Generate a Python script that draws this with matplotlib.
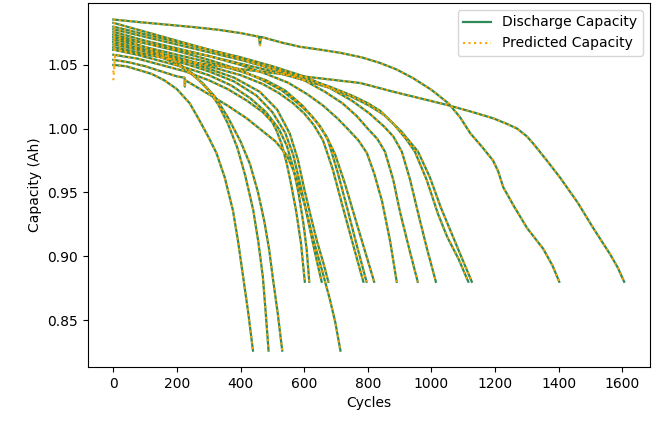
import matplotlib
matplotlib.use("Agg")
import matplotlib.pyplot as plt

# (cycle, capacity in Ah) keypoints, one list per cell
cell_439 = [(0, 1.050), (40, 1.049), (80, 1.046), (120, 1.043), (160, 1.038),
            (200, 1.031), (240, 1.020), (272, 1.006), (300, 0.993), (324, 0.981),
            (350, 0.962), (376, 0.936), (392, 0.912), (408, 0.884), (424, 0.856),
            (439, 0.826)]
cell_488 = [(0, 1.072), (50, 1.068), (100, 1.064), (150, 1.059), (200, 1.052),
            (250, 1.043), (300, 1.030), (330, 1.019), (360, 1.004), (390, 0.985),
            (415, 0.963), (440, 0.936), (456, 0.911), (470, 0.884), (479, 0.856),
            (488, 0.826)]
cell_531 = [(0, 1.068), (60, 1.064), (120, 1.059), (180, 1.053), (230, 1.046),
            (280, 1.036), (320, 1.025), (360, 1.009), (400, 0.990), (430, 0.972),
            (455, 0.950), (475, 0.927), (490, 0.905), (502, 0.882), (517, 0.855),
            (531, 0.826)]
cell_602 = [(0, 1.058), (75, 1.055), (150, 1.050), (225, 1.045), (300, 1.038),
            (360, 1.031), (420, 1.022), (470, 1.013), (500, 1.005), (514, 0.998),
            (529, 0.988), (545, 0.973), (560, 0.955), (575, 0.935), (590, 0.910),
            (602, 0.880)]
cell_616 = [(0, 1.062), (75, 1.058), (150, 1.053), (225, 1.048), (300, 1.042),
            (370, 1.034), (430, 1.024), (480, 1.013), (520, 1.000), (545, 0.987),
            (565, 0.970), (582, 0.950), (598, 0.925), (608, 0.905), (616, 0.880)]
cell_655 = [(0, 1.064), (75, 1.060), (150, 1.056), (225, 1.051), (300, 1.045),
            (380, 1.037), (450, 1.026), (500, 1.013), (540, 0.997), (565, 0.980),
            (586, 0.958), (605, 0.937), (625, 0.913), (641, 0.895), (655, 0.880)]
cell_676 = [(0, 1.066), (75, 1.062), (150, 1.058), (225, 1.053), (300, 1.047),
            (380, 1.040), (460, 1.029), (515, 1.015), (555, 0.996), (580, 0.976),
            (600, 0.953), (620, 0.932), (640, 0.912), (660, 0.895), (676, 0.880)]
cell_714 = [(0, 1.054), (50, 1.052), (100, 1.049), (150, 1.045), (200, 1.041),
            (224, 1.040), (225, 1.033), (226, 1.038), (260, 1.033), (300, 1.027),
            (360, 1.018), (420, 1.008), (470, 0.998), (510, 0.990), (546, 0.979),
            (575, 0.962), (600, 0.942), (630, 0.912), (655, 0.890), (681, 0.866),
            (698, 0.848), (714, 0.826)]
cell_786 = [(0, 1.068), (100, 1.062), (200, 1.056), (300, 1.049), (400, 1.042),
            (470, 1.035), (520, 1.028), (565, 1.020), (600, 1.012), (630, 1.003),
            (659, 0.991), (690, 0.968), (722, 0.938), (755, 0.908), (786, 0.880)]
cell_796 = [(0, 1.074), (100, 1.067), (200, 1.061), (300, 1.054), (400, 1.046),
            (470, 1.038), (530, 1.030), (580, 1.020), (620, 1.011), (650, 1.002),
            (675, 0.991), (705, 0.966), (735, 0.938), (766, 0.908), (796, 0.880)]
cell_820 = [(0, 1.070), (100, 1.064), (200, 1.058), (300, 1.052), (400, 1.045),
            (480, 1.038), (540, 1.030), (595, 1.018), (640, 1.005), (670, 0.994),
            (697, 0.980), (728, 0.957), (760, 0.930), (790, 0.905), (820, 0.880)]
cell_891 = [(0, 1.076), (100, 1.069), (200, 1.063), (300, 1.057), (400, 1.050),
            (480, 1.043), (550, 1.036), (610, 1.027), (660, 1.018), (705, 1.008),
            (740, 0.999), (770, 0.991), (797, 0.981), (820, 0.965), (845, 0.943),
            (870, 0.912), (891, 0.880)]
cell_957 = [(0, 1.083), (100, 1.076), (200, 1.069), (300, 1.062), (400, 1.055),
            (500, 1.047), (600, 1.038), (665, 1.029), (720, 1.020), (765, 1.010),
            (800, 1.000), (830, 0.992), (854, 0.982), (880, 0.960), (902, 0.934),
            (930, 0.906), (957, 0.880)]
cell_1014 = [(0, 1.080), (100, 1.074), (200, 1.068), (300, 1.062), (400, 1.056),
             (500, 1.049), (600, 1.041), (680, 1.032), (750, 1.022), (805, 1.012),
             (850, 1.002), (880, 0.994), (907, 0.982), (933, 0.960), (958, 0.934),
             (986, 0.906), (1014, 0.880)]
cell_1116 = [(0, 1.078), (100, 1.072), (200, 1.066), (300, 1.060), (400, 1.054),
             (500, 1.047), (600, 1.040), (680, 1.033), (750, 1.026), (800, 1.020),
             (839, 1.014), (880, 1.004), (920, 0.992), (948, 0.982), (985, 0.960),
             (1021, 0.933), (1050, 0.915), (1085, 0.898), (1116, 0.880)]
cell_1127 = [(0, 1.072), (100, 1.067), (200, 1.062), (300, 1.057), (400, 1.051),
             (500, 1.045), (600, 1.038), (680, 1.032), (750, 1.025), (805, 1.018),
             (850, 1.011), (905, 0.998), (958, 0.982), (995, 0.962), (1030, 0.938),
             (1060, 0.920), (1095, 0.899), (1127, 0.880)]
cell_1402 = [(0, 1.0856), (80, 1.0836), (168, 1.0816), (250, 1.0797), (326, 1.0777),
             (400, 1.0750), (458, 1.0721), (461, 1.0655), (464, 1.0720), (530, 1.0675),
             (587, 1.0642), (650, 1.0620), (713, 1.0595), (780, 1.0560), (838, 1.0516),
             (890, 1.0465), (942, 1.0397), (1000, 1.0305), (1053, 1.0200),
             (1090, 1.0090), (1122, 0.9965), (1160, 0.9855), (1194, 0.9750),
             (1210, 0.9665), (1226, 0.9540), (1260, 0.9390), (1301, 0.9220),
             (1351, 0.9060), (1380, 0.8930), (1402, 0.880)]
cell_1606 = [(0, 1.062), (125, 1.057), (250, 1.052), (390, 1.047), (524, 1.043),
             (650, 1.0395), (777, 1.0358), (880, 1.0290), (970, 1.0235), (1053, 1.0184),
             (1130, 1.0130), (1195, 1.0081), (1240, 1.0035), (1270, 1.0000),
             (1300, 0.9940), (1320, 0.9884), (1360, 0.9760), (1405, 0.9615),
             (1460, 0.9420), (1509, 0.9220), (1562, 0.9015), (1586, 0.8910),
             (1606, 0.880)]

cells = [cell_439, cell_488, cell_531, cell_602, cell_616, cell_655, cell_676,
         cell_714, cell_786, cell_796, cell_820, cell_891, cell_957, cell_1014,
         cell_1116, cell_1127, cell_1402, cell_1606]

# the model's first predicted point sits lower for two cells
pred_first = {3: 1.038, 4: 1.044}

fig, ax = plt.subplots(figsize=(6.65, 4.24), dpi=100)
fig.subplots_adjust(left=0.132, right=0.977, top=0.993, bottom=0.134)

for i, cell in enumerate(cells):
    cyc = [p[0] for p in cell]
    cap = [p[1] for p in cell]
    ax.plot(cyc, cap, color="seagreen", lw=1.6,
            label="Discharge Capacity" if i == 0 else None)

for i, cell in enumerate(cells):
    cyc = [p[0] for p in cell]
    cap = [p[1] for p in cell]
    if i in pred_first:
        cyc = [0, 6] + cyc[1:]
        cap = [pred_first[i], cap[0]] + cap[1:]
    ax.plot(cyc, cap, color="orange", ls=":", lw=1.5,
            label="Predicted Capacity" if i == 0 else None)

ax.set_xticks(range(0, 1601, 200))
ax.set_yticks([0.85, 0.90, 0.95, 1.00, 1.05])
ax.set_xlabel("Cycles")
ax.set_ylabel("Capacity (Ah)")
ax.legend(loc="upper right")

plt.savefig("out.png")
